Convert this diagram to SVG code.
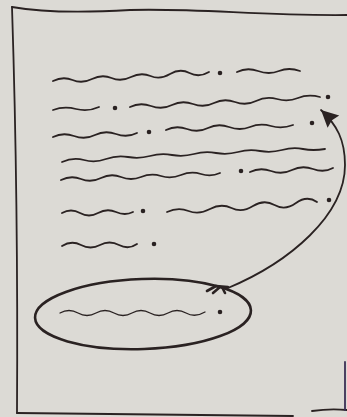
<svg xmlns="http://www.w3.org/2000/svg" width="347" height="417" viewBox="0 0 347 417">
<style>
.ink{fill:none;stroke:#2a2222;stroke-width:1.8;stroke-linecap:round;stroke-linejoin:round}
.thin{stroke-width:1.3}
.dot{fill:#2a2222}
</style>
<defs>
<marker id="head" markerUnits="userSpaceOnUse" markerWidth="22" markerHeight="22" viewBox="-18 -11 22 22" refX="0" refY="0" orient="auto">
<path d="M0,0 L-17,-8.5 L-15,0 L-17,8.5 Z" fill="#2a2222"/>
</marker>
</defs>
<rect width="347" height="417" fill="#dcdad5"/>
<g id="page" class="ink">
<path d="M12,7 C40,12 80,13 130,10 C200,8 260,16 347,15"/>
<path d="M12,7 C15,100 18,250 17,413"/>
<path d="M17,413 L293,416"/>
<path d="M312,411 C325,409 338,409 347,410"/>
<path d="M345,362 L345,410" stroke="#3b2f55"/>
</g>
<g id="text-lines" class="ink">
<path d="M53,81 q10,-5 19.5,-1 t19.5,-1 t19.5,-1 t19.5,-1 t19.5,-1 t19.5,-2 t19.5,-1 t19.5,-1"/>
<path d="M237,72 q10,-5 21,-1 t21,0 t21,0"/>
<path d="M53,110 q11,-4 23,-1 t23,-2"/>
<path d="M130,107 q10,-5 21,-1 t21,-1 t21,-1 t21,-1 t21,-1 t21,-1 t21,-2 t21,-1 t22,-1"/>
<path d="M53,137 q10,-5 21,-1 t21,-1 t21,-1 t21,-1"/>
<path d="M166,130 q10,-5 21,-1 t21,-1 t21,-1 t21,0 t21,-1 t22,-1"/>
<path d="M62,162 q11,-5 22,-2 t22,-1 t22,-2 t22,-1 t22,-1 t22,-1 t22,-1 t22,-1 t22,-1 t22,-1 t21,-1 t22,0"/>
<path d="M61,180 q10,-5 20,-1 t20,-1 t20,-1 t20,0 t20,-1 t20,-1 t20,-1 t19,-1"/>
<path d="M250,172 q10,-5 21,-1 t21,-1 t21,-1 t20,-1"/>
<path d="M62,213 q9,-5 18,0 t18,0 t18,-1 t17,0"/>
<path d="M167,212 q11,-5 21.5,-1 t21.5,-2 t21.5,-1 t21.5,-2 t21.5,-1 t21.5,-2 t21,-1"/>
<path d="M62,246 q9.5,-6 19,-1 t19,0 t19,0 t18,-1"/>
<circle class="dot" cx="220" cy="73" r="1.4"/>
<circle class="dot" cx="115" cy="108" r="1.4"/>
<circle class="dot" cx="328" cy="97" r="1.4"/>
<circle class="dot" cx="149" cy="132" r="1.4"/>
<circle class="dot" cx="312" cy="123" r="1.4"/>
<circle class="dot" cx="241" cy="171" r="1.4"/>
<circle class="dot" cx="143" cy="211" r="1.4"/>
<circle class="dot" cx="329" cy="200" r="1.4"/>
<circle class="dot" cx="154" cy="244" r="1.4"/>
</g>
<g id="highlight" class="ink">
<ellipse cx="143" cy="314" rx="108" ry="35" transform="rotate(-2 143 314)" stroke-width="2.6"/>
<path class="thin" d="M60,313 q9,-5 18,0 t18,0 t18,0 t18,0 t18,0 t18,0 t18,0 t19,-1"/>
<circle class="dot" cx="220" cy="312" r="1.4"/>
</g>
<g id="connectors" class="ink">
<path d="M228,288 C290,262 345,215 345,165 C345,140 337,125 321,110" marker-end="url(#head)"/>
<path d="M207,291 L216,286 L228,287 M213,293 L220,287 M225,293 L222,287" stroke-width="2.6"/>
</g>
</svg>
